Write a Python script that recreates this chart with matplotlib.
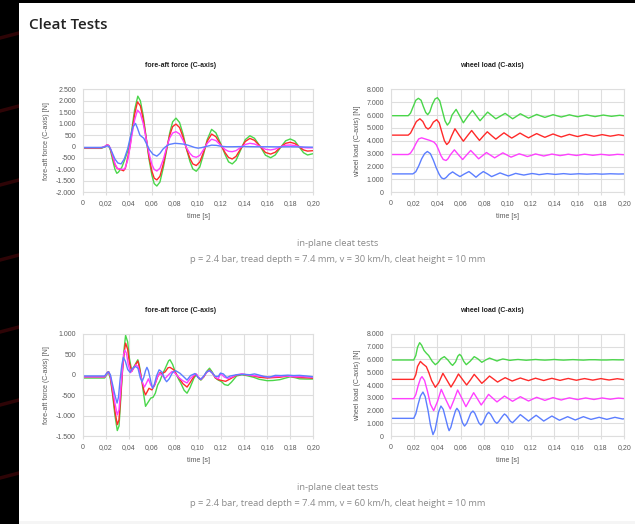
import matplotlib.pyplot as plt
from matplotlib.lines import Line2D
from matplotlib.patches import Rectangle

W, H = 635, 524

TIME_TICKS = [0, 0.02, 0.04, 0.06, 0.08, 0.10, 0.12, 0.14, 0.16, 0.18, 0.20]
TIME_LABELS = ["0", "0,02", "0,04", "0,06", "0,08", "0,10", "0,12", "0,14", "0,16", "0,18", "0,20"]

FORCE_30_TICKS = [-2000, -1500, -1000, -500, 0, 500, 1000, 1500, 2000, 2500]
FORCE_60_TICKS = [-1500, -1000, -500, 0, 500, 1000]
LOAD_TICKS = [0, 1000, 2000, 3000, 4000, 5000, 6000, 7000, 8000]

COLORS = ["#4ad64a", "#ff2a2a", "#ff40ff", "#5c7eff"]  # green, red, magenta, blue

# (time [s], value [N])
# --- v = 30 km/h, fore-aft force
F30_GREEN = [(0, -80), (0.016, -80), (0.019, -20), (0.021, 60), (0.0225, 40), (0.024, -150), (0.026, -600),
             (0.028, -1000), (0.0296, -1170), (0.031, -1120), (0.034, -900), (0.037, -500), (0.040, -50),
             (0.0425, 700), (0.045, 1600), (0.0478, 2200), (0.050, 2000), (0.0525, 1350), (0.055, 400),
             (0.0575, -550), (0.060, -1250), (0.062, -1620), (0.0643, -1726), (0.067, -1550), (0.070, -900),
             (0.073, -100), (0.0755, 600), (0.078, 1080), (0.0809, 1240), (0.084, 1050), (0.087, 550),
             (0.090, -100), (0.093, -650), (0.0955, -980), (0.0985, -1080), (0.1015, -900), (0.105, -300),
             (0.108, 300), (0.1118, 750), (0.1155, 600), (0.1195, 150), (0.1235, -350), (0.1265, -670),
             (0.1297, -760), (0.133, -600), (0.137, -150), (0.141, 300), (0.145, 470), (0.149, 360),
             (0.154, 0), (0.1585, -380), (0.163, -490), (0.167, -370), (0.1715, -50), (0.176, 250),
             (0.180, 330), (0.184, 240), (0.1875, 0), (0.1915, -270), (0.195, -370), (0.2, -310)]
F30_RED = [(0, -60), (0.016, -60), (0.019, -10), (0.021, 70), (0.0225, 50), (0.024, -100), (0.026, -450),
           (0.028, -800), (0.030, -960), (0.032, -990), (0.0354, -1060), (0.037, -950), (0.039, -500),
           (0.041, 0), (0.0425, 550), (0.045, 1400), (0.0475, 1950), (0.050, 1780), (0.0525, 1200),
           (0.055, 380), (0.0575, -450), (0.060, -1080), (0.062, -1380), (0.0643, -1460), (0.067, -1300),
           (0.070, -750), (0.073, -50), (0.0755, 500), (0.078, 870), (0.0809, 980), (0.084, 830), (0.087, 420),
           (0.090, -100), (0.093, -520), (0.0955, -760), (0.0985, -830), (0.1015, -680), (0.105, -220),
           (0.108, 230), (0.1118, 545), (0.1155, 430), (0.1195, 100), (0.1235, -270), (0.1265, -480),
           (0.1297, -545), (0.133, -430), (0.137, -100), (0.141, 220), (0.145, 355), (0.149, 270), (0.154, 0),
           (0.1585, -260), (0.163, -330), (0.167, -250), (0.1715, -30), (0.176, 140), (0.180, 185),
           (0.184, 130), (0.1875, 0), (0.1915, -150), (0.195, -200), (0.2, -180)]
F30_MAGENTA = [(0, -50), (0.016, -50), (0.019, 0), (0.021, 70), (0.0225, 50), (0.024, -80), (0.026, -400),
               (0.028, -750), (0.030, -950), (0.032, -980), (0.034, -1000), (0.0365, -980), (0.039, -600),
               (0.041, -50), (0.0425, 450), (0.045, 1150), (0.0475, 1590), (0.050, 1450), (0.0525, 1000),
               (0.055, 350), (0.0575, -300), (0.060, -780), (0.062, -1000), (0.0643, -1070), (0.067, -950),
               (0.070, -550), (0.073, 0), (0.0755, 380), (0.078, 590), (0.0809, 650), (0.084, 550), (0.087, 270),
               (0.090, -50), (0.093, -300), (0.0955, -430), (0.0985, -470), (0.1015, -390), (0.105, -120),
               (0.108, 140), (0.1118, 320), (0.1155, 260), (0.1195, 60), (0.1235, -130), (0.1265, -210),
               (0.1297, -225), (0.133, -180), (0.137, -40), (0.141, 90), (0.145, 140), (0.149, 110), (0.154, 0),
               (0.1585, -120), (0.163, -150), (0.167, -110), (0.1715, -10), (0.176, 55), (0.180, 65),
               (0.184, 45), (0.1875, 0), (0.1915, -45), (0.195, -60), (0.2, -55)]
F30_BLUE = [(0, -40), (0.017, -40), (0.0195, -10), (0.021, 30), (0.023, 0), (0.025, -200), (0.028, -550),
            (0.0305, -720), (0.0333, -760), (0.036, -550), (0.039, -100), (0.0415, 450), (0.0435, 850),
            (0.0458, 1010), (0.0475, 800), (0.0496, 500), (0.0515, 420), (0.053, 360), (0.0557, 80),
            (0.058, -150), (0.061, -340), (0.0643, -420), (0.067, -300), (0.0695, -120), (0.0716, -20),
            (0.075, 90), (0.080, 140), (0.085, 120), (0.089, 95), (0.093, 30), (0.097, -40), (0.1, -70),
            (0.103, -50), (0.107, 0), (0.1118, 60), (0.116, 50), (0.12, 10), (0.125, -10), (0.13, -10),
            (0.14, 0), (0.15, -10), (0.16, -10), (0.17, -15), (0.18, -10), (0.19, -20), (0.2, -30)]

# --- v = 30 km/h, wheel load
L30_GREEN = [(0, 5950), (0.015, 5950), (0.017, 6150), (0.019, 6600), (0.0215, 7150), (0.0237, 7300),
             (0.026, 7150), (0.028, 6650), (0.030, 6200), (0.0317, 6030), (0.0335, 6250), (0.0355, 6800),
             (0.038, 7250), (0.040, 7350), (0.042, 7100), (0.0443, 6300), (0.0465, 5550), (0.0485, 5220),
             (0.0505, 5450), (0.0525, 6000), (0.056, 6440), (0.059, 5950), (0.0622, 5400), (0.066, 5900),
             (0.070, 6360), (0.0733, 5950), (0.0765, 5560), (0.0798, 5900), (0.083, 6230), (0.0865, 5970),
             (0.090, 5710), (0.094, 5920), (0.098, 6130), (0.1012, 5920), (0.1044, 5710), (0.1077, 5900),
             (0.111, 6100), (0.1145, 5930), (0.118, 5760), (0.1215, 5900), (0.125, 6050), (0.1285, 5930),
             (0.132, 5820), (0.1355, 5920), (0.139, 6030), (0.1425, 5940), (0.146, 5850), (0.1495, 5930),
             (0.153, 6020), (0.1565, 5940), (0.160, 5870), (0.164, 5940), (0.168, 6010), (0.1715, 5940),
             (0.175, 5880), (0.1785, 5940), (0.182, 6000), (0.1855, 5950), (0.189, 5900), (0.1925, 5940),
             (0.196, 5980), (0.2, 5940)]
L30_RED = [(0, 4440), (0.015, 4440), (0.017, 4600), (0.0195, 5050), (0.022, 5500), (0.025, 5710),
           (0.0275, 5500), (0.030, 5050), (0.032, 4910), (0.034, 5050), (0.0365, 5450), (0.0394, 5640),
           (0.0415, 5400), (0.0438, 4670), (0.046, 4000), (0.048, 3710), (0.050, 3900), (0.052, 4350),
           (0.055, 4935), (0.0585, 4450), (0.0622, 3970), (0.0658, 4400), (0.0693, 4800), (0.0727, 4400),
           (0.076, 4030), (0.0793, 4370), (0.0827, 4700), (0.0863, 4410), (0.090, 4130), (0.0935, 4380),
           (0.097, 4620), (0.1003, 4410), (0.1036, 4210), (0.1072, 4400), (0.1107, 4600), (0.1143, 4410),
           (0.118, 4230), (0.1215, 4400), (0.125, 4560), (0.1285, 4410), (0.132, 4270), (0.1355, 4400),
           (0.139, 4530), (0.1425, 4410), (0.146, 4300), (0.1495, 4400), (0.153, 4500), (0.1565, 4410),
           (0.160, 4330), (0.1635, 4410), (0.167, 4490), (0.1705, 4420), (0.174, 4350), (0.1775, 4410),
           (0.181, 4480), (0.1845, 4420), (0.188, 4360), (0.1915, 4410), (0.195, 4470), (0.2, 4400)]
L30_MAGENTA = [(0, 2935), (0.015, 2935), (0.017, 3050), (0.0195, 3400), (0.022, 3850), (0.024, 4150),
               (0.0265, 4230), (0.030, 4130), (0.0337, 4025), (0.037, 3900), (0.039, 3700), (0.041, 3300),
               (0.043, 2850), (0.045, 2550), (0.0474, 2470), (0.049, 2600), (0.051, 2900), (0.0545, 3300),
               (0.058, 2920), (0.0616, 2545), (0.065, 2900), (0.0685, 3250), (0.072, 2920), (0.0753, 2600),
               (0.0787, 2850), (0.082, 3090), (0.0855, 2880), (0.089, 2675), (0.0925, 2870), (0.096, 3065),
               (0.0995, 2900), (0.103, 2730), (0.1065, 2860), (0.110, 2990), (0.1135, 2890), (0.117, 2780),
               (0.1205, 2870), (0.124, 2980), (0.1275, 2900), (0.131, 2820), (0.1345, 2890), (0.138, 2970),
               (0.1415, 2910), (0.145, 2850), (0.1485, 2900), (0.152, 2960), (0.1555, 2910), (0.159, 2860),
               (0.1625, 2910), (0.166, 2960), (0.1695, 2920), (0.173, 2870), (0.1765, 2910), (0.180, 2950),
               (0.1835, 2920), (0.187, 2880), (0.1905, 2910), (0.194, 2950), (0.2, 2920)]
L30_BLUE = [(0, 1430), (0.019, 1430), (0.0215, 1600), (0.024, 2050), (0.0265, 2600), (0.029, 3000),
            (0.0314, 3170), (0.034, 3000), (0.0365, 2500), (0.039, 1900), (0.0415, 1400), (0.0435, 1120),
            (0.0456, 1040), (0.0475, 1150), (0.050, 1400), (0.053, 1585), (0.056, 1400), (0.0593, 1220),
            (0.063, 1420), (0.067, 1610), (0.070, 1400), (0.073, 1170), (0.076, 1400), (0.0793, 1610),
            (0.083, 1420), (0.0864, 1220), (0.090, 1360), (0.0936, 1506), (0.097, 1390), (0.1007, 1270),
            (0.104, 1370), (0.107, 1470), (0.1105, 1400), (0.114, 1340), (0.1175, 1400), (0.121, 1460),
            (0.1245, 1415), (0.127, 1370), (0.1305, 1410), (0.134, 1450), (0.1375, 1420), (0.141, 1390),
            (0.1445, 1420), (0.148, 1450), (0.151, 1425), (0.154, 1400), (0.1575, 1420), (0.161, 1440),
            (0.1645, 1425), (0.168, 1410), (0.1715, 1425), (0.175, 1440), (0.178, 1425), (0.181, 1410),
            (0.1845, 1425), (0.188, 1440), (0.1915, 1430), (0.195, 1420), (0.2, 1430)]

# --- v = 60 km/h, fore-aft force
F60_GREEN = [(0, -80), (0.019, -80), (0.0215, 30), (0.0225, 50), (0.024, -100), (0.026, -500), (0.028, -1000),
             (0.030, -1360), (0.0315, -1250), (0.033, -600), (0.0345, 100), (0.036, 650), (0.0372, 960),
             (0.039, 800), (0.0405, 400), (0.0425, 100), (0.0445, 200), (0.0478, 365), (0.049, 250),
             (0.051, -100), (0.053, -500), (0.0545, -770), (0.0565, -680), (0.059, -570), (0.061, -550),
             (0.063, -450), (0.065, -250), (0.067, -150), (0.069, 0), (0.0715, 150), (0.0745, 340),
             (0.0757, 365), (0.078, 250), (0.0805, 50), (0.083, -100), (0.085, -200), (0.088, -380),
             (0.0905, -450), (0.093, -320), (0.0965, -80), (0.0985, 0), (0.1005, -80), (0.1025, -130),
             (0.105, -50), (0.1075, 80), (0.110, 160), (0.1125, 60), (0.115, -80), (0.1176, -130),
             (0.1205, -170), (0.123, -240), (0.126, -260), (0.129, -180), (0.1335, -30), (0.138, 0),
             (0.142, -20), (0.148, -60), (0.153, -110), (0.16, -145), (0.165, -140), (0.171, -120),
             (0.176, -80), (0.18, -50), (0.184, -70), (0.188, -100), (0.194, -105), (0.2, -105)]
F60_RED = [(0, -50), (0.019, -50), (0.0215, 60), (0.0225, 75), (0.024, -50), (0.026, -450), (0.028, -900),
           (0.030, -1215), (0.0315, -1100), (0.033, -500), (0.0345, 100), (0.036, 550), (0.0372, 770),
           (0.039, 620), (0.0405, 300), (0.0425, 80), (0.0445, 180), (0.0478, 335), (0.049, 200), (0.051, -100),
           (0.053, -380), (0.0545, -490), (0.0575, -330), (0.060, -370), (0.0625, -250), (0.065, -50),
           (0.067, 50), (0.069, 30), (0.0715, 70), (0.074, 170), (0.0757, 180), (0.079, 120), (0.0815, 0),
           (0.084, -100), (0.087, -220), (0.0905, -300), (0.093, -200), (0.0965, -40), (0.0985, 10),
           (0.1005, -70), (0.1025, -120), (0.105, -50), (0.1075, 60), (0.110, 115), (0.1125, 40),
           (0.115, -70), (0.1176, -120), (0.1205, -140), (0.124, -160), (0.128, -100), (0.1335, -10),
           (0.138, 10), (0.142, 0), (0.148, -30), (0.153, -60), (0.16, -80), (0.165, -70), (0.171, -60),
           (0.176, -40), (0.18, -40), (0.185, -60), (0.19, -70), (0.195, -75), (0.2, -85)]
F60_MAGENTA = [(0, -50), (0.019, -50), (0.0215, 50), (0.0225, 60), (0.024, -30), (0.026, -350), (0.028, -700),
               (0.030, -980), (0.0315, -850), (0.033, -350), (0.0345, 150), (0.0355, 500), (0.0365, 600),
               (0.038, 520), (0.0395, 250), (0.0415, 50), (0.044, 150), (0.046, 240), (0.048, 200), (0.050, 0),
               (0.052, -200), (0.0535, -300), (0.055, -220), (0.057, -100), (0.059, -250), (0.061, -310),
               (0.063, -200), (0.065, -30), (0.067, 30), (0.069, -20), (0.0715, -90), (0.0745, 0),
               (0.0775, 80), (0.080, 40), (0.083, -60), (0.087, -150), (0.0905, -200), (0.093, -100),
               (0.0965, -10), (0.0985, 20), (0.1005, -60), (0.1025, -110), (0.105, -40), (0.1075, 60),
               (0.110, 100), (0.1125, 40), (0.115, -60), (0.1176, -100), (0.1195, 30), (0.123, -60),
               (0.126, -90), (0.129, -60), (0.1335, 0), (0.138, 20), (0.142, 0), (0.148, -20), (0.155, -40),
               (0.16, -50), (0.165, -50), (0.17, -40), (0.176, -30), (0.18, -40), (0.185, -50), (0.19, -45),
               (0.195, -55), (0.2, -60)]
F60_BLUE = [(0, -30), (0.019, -30), (0.0215, 60), (0.0225, 70), (0.024, 0), (0.026, -250), (0.028, -500),
            (0.0298, -690), (0.031, -550), (0.0325, -100), (0.034, 250), (0.0353, 424), (0.037, 330),
            (0.039, 130), (0.041, 60), (0.043, 150), (0.0455, 200), (0.047, 180), (0.048, 150), (0.050, -80),
            (0.0515, -170), (0.053, -60), (0.0545, 100), (0.0557, 180), (0.057, 100), (0.059, -150),
            (0.0605, -330), (0.062, -250), (0.064, -30), (0.0663, 120), (0.069, 60), (0.071, -100),
            (0.0728, -170), (0.075, -100), (0.078, 60), (0.0805, 100), (0.0844, 35), (0.088, -60),
            (0.0905, -130), (0.0935, -20), (0.0974, 30), (0.1005, -80), (0.1025, -110), (0.105, -30),
            (0.1075, 70), (0.110, 100), (0.1125, 40), (0.115, -40), (0.1176, -40), (0.1195, 40), (0.122, 20),
            (0.125, -70), (0.128, -30), (0.1335, 0), (0.14, 10), (0.145, 0), (0.149, 20), (0.152, 0),
            (0.157, -40), (0.162, -60), (0.167, -15), (0.172, -20), (0.178, -10), (0.183, -20), (0.188, -15),
            (0.194, -30), (0.2, -50)]

# --- v = 60 km/h, wheel load
L60_GREEN = [(0, 5950), (0.0197, 5950), (0.0215, 6300), (0.023, 6950), (0.0248, 7300), (0.0265, 7100),
             (0.0285, 6700), (0.0305, 6480), (0.0325, 6300), (0.0355, 5850), (0.0382, 5585), (0.0405, 5750),
             (0.043, 6050), (0.0459, 6210), (0.049, 5950), (0.0515, 5650), (0.053, 5530), (0.0555, 5800),
             (0.0575, 6250), (0.059, 6390), (0.0605, 6250), (0.0625, 5850), (0.0647, 5585), (0.068, 5850),
             (0.0715, 6210), (0.0745, 6050), (0.078, 5770), (0.0813, 5950), (0.0846, 6100), (0.088, 5980),
             (0.091, 5870), (0.0935, 5960), (0.096, 6030), (0.099, 5980), (0.102, 5920), (0.1055, 5960),
             (0.109, 5990), (0.1125, 5960), (0.116, 5930), (0.12, 5960), (0.124, 5990), (0.128, 5960),
             (0.132, 5940), (0.136, 5960), (0.14, 5990), (0.144, 5960), (0.148, 5940), (0.152, 5960),
             (0.156, 5980), (0.16, 5960), (0.165, 5940), (0.17, 5970), (0.175, 5970), (0.18, 5950),
             (0.185, 5950), (0.19, 5970), (0.195, 5960), (0.2, 5960)]
L60_RED = [(0, 4440), (0.0197, 4440), (0.0215, 4800), (0.023, 5450), (0.0254, 5840), (0.0275, 5650),
           (0.0305, 5430), (0.0325, 5000), (0.035, 4350), (0.0382, 3820), (0.041, 4150), (0.0447, 4910),
           (0.048, 4400), (0.0516, 3840), (0.055, 4350), (0.058, 4860), (0.0615, 4430), (0.065, 4000),
           (0.0683, 4400), (0.0715, 4830), (0.0748, 4480), (0.078, 4130), (0.0813, 4400), (0.0846, 4700),
           (0.088, 4470), (0.0915, 4230), (0.095, 4420), (0.098, 4570), (0.101, 4440), (0.104, 4310),
           (0.1075, 4430), (0.111, 4545), (0.1145, 4440), (0.118, 4340), (0.121, 4440), (0.124, 4530),
           (0.1275, 4440), (0.131, 4350), (0.1345, 4440), (0.138, 4520), (0.1415, 4440), (0.145, 4360),
           (0.1485, 4440), (0.152, 4510), (0.1555, 4440), (0.159, 4370), (0.1625, 4440), (0.166, 4500),
           (0.1695, 4440), (0.173, 4380), (0.1765, 4440), (0.18, 4500), (0.1835, 4440), (0.187, 4390),
           (0.1905, 4440), (0.194, 4490), (0.197, 4450), (0.2, 4420)]
L60_MAGENTA = [(0, 2935), (0.0197, 2935), (0.0215, 3250), (0.0235, 3950), (0.0255, 4500), (0.0268, 4650),
               (0.029, 4350), (0.0315, 3500), (0.034, 2500), (0.0368, 2000), (0.040, 2700), (0.0433, 3660),
               (0.047, 2900), (0.051, 2130), (0.054, 2800), (0.0573, 3610), (0.061, 2950), (0.0644, 2310),
               (0.0677, 2850), (0.071, 3400), (0.0743, 2920), (0.0775, 2440), (0.0807, 2850), (0.0838, 3270),
               (0.0874, 2970), (0.091, 2680), (0.0942, 2910), (0.0974, 3140), (0.101, 2930), (0.1043, 2730),
               (0.1077, 2910), (0.111, 3090), (0.1145, 2920), (0.118, 2750), (0.1215, 2900), (0.125, 3040),
               (0.1285, 2920), (0.132, 2800), (0.1355, 2910), (0.139, 3020), (0.1425, 2920), (0.146, 2830),
               (0.1495, 2920), (0.153, 3000), (0.1565, 2930), (0.16, 2860), (0.1635, 2930), (0.167, 2990),
               (0.1705, 2930), (0.174, 2870), (0.1775, 2930), (0.181, 2990), (0.1845, 2940), (0.188, 2890),
               (0.1915, 2940), (0.195, 2980), (0.2, 2940)]
L60_BLUE = [(0, 1400), (0.0197, 1400), (0.0215, 1750), (0.0235, 2500), (0.0255, 3150), (0.0276, 3450),
            (0.0295, 3100), (0.032, 2000), (0.034, 900), (0.0362, 130), (0.038, 500), (0.0395, 1200),
            (0.041, 1900), (0.043, 2360), (0.045, 2100), (0.047, 1400), (0.049, 700), (0.050, 440),
            (0.0515, 700), (0.0535, 1400), (0.0555, 2000), (0.0567, 2180), (0.0585, 1950), (0.060, 1500),
            (0.0615, 1050), (0.0632, 800), (0.065, 1000), (0.0668, 1400), (0.0685, 1800), (0.0704, 1970),
            (0.072, 1800), (0.0738, 1420), (0.0755, 1050), (0.0772, 880), (0.079, 1050), (0.0805, 1380),
            (0.0822, 1700), (0.0838, 1870), (0.0855, 1720), (0.0873, 1440), (0.089, 1160), (0.0909, 1010),
            (0.0925, 1150), (0.0942, 1380), (0.096, 1600), (0.0974, 1740), (0.099, 1630), (0.1008, 1400),
            (0.1025, 1170), (0.1043, 1060), (0.1077, 1375), (0.111, 1690), (0.1145, 1440), (0.118, 1190),
            (0.1212, 1415), (0.1245, 1640), (0.1278, 1415), (0.131, 1190), (0.1345, 1385), (0.138, 1580),
            (0.1412, 1415), (0.1445, 1250), (0.148, 1390), (0.1515, 1530), (0.1548, 1400), (0.158, 1270),
            (0.1615, 1400), (0.165, 1530), (0.1682, 1425), (0.1715, 1320), (0.175, 1400), (0.1785, 1480),
            (0.1818, 1400), (0.185, 1320), (0.1885, 1400), (0.192, 1480), (0.1952, 1415), (0.1985, 1350),
            (0.2, 1370)]

CAPTION_TOP = "in-plane cleat tests"
CAPTION_30 = "p = 2.4 bar, tread depth = 7.4 mm, v = 30 km/h, cleat height = 10 mm"
CAPTION_60 = "p = 2.4 bar, tread depth = 7.4 mm, v = 60 km/h, cleat height = 10 mm"

# faint reddish streaks in the dark page margin
STREAK_ROWS = [35, 108, 182, 257, 329, 402, 475]

CHART_FONT = "Liberation Sans"
PAGE_FONT = "Open Sans"
GRID = "#dedede"


def fx(px):
    return px / W


def fy(py):
    return 1 - py / H


def draw_chart(fig, box, series, ticks, title, ylabel, title_x, ylabel_x):
    left, top, right, bottom = box
    ax = fig.add_axes([fx(left), fy(bottom), (right - left) / W, (bottom - top) / H])
    ax.set_facecolor("white")

    for points, color in zip(series, COLORS):
        t = [p[0] for p in points]
        v = [p[1] for p in points]
        ax.plot(t, v, color=color, lw=1.0, solid_joinstyle="round")

    ax.set_xlim(TIME_TICKS[0], TIME_TICKS[-1])
    ax.set_ylim(ticks[0], ticks[-1])
    ax.set_xticks(TIME_TICKS)
    ax.set_xticklabels(TIME_LABELS)
    ax.set_yticks(ticks)
    ax.set_yticklabels([f"{v:,}".replace(",", ".") for v in ticks])
    ax.grid(True, color=GRID, lw=0.8)
    ax.set_axisbelow(True)
    for sp in ax.spines.values():
        sp.set_color(GRID)
        sp.set_linewidth(0.8)
    ax.tick_params(axis="x", length=2.2, width=0.8, color=GRID, pad=3.2,
                   labelsize=5, labelcolor="#5a5a5a")
    ax.tick_params(axis="y", length=0, pad=4.8, labelsize=5, labelcolor="#5a5a5a")
    for lab in ax.get_xticklabels() + ax.get_yticklabels():
        lab.set_fontfamily(CHART_FONT)

    fig.text(fx(title_x), fy(top - 23.5), title, ha="center", va="center",
             fontsize=5, fontweight="bold", color="#222222", family=CHART_FONT)
    fig.text(fx(ylabel_x), fy((top + bottom) / 2), ylabel, ha="center", va="center",
             rotation=90, fontsize=5, color="#5a5a5a", family=CHART_FONT)
    fig.text(fx((left + right) / 2), fy(bottom + 24.7), "time [s]", ha="center", va="center",
             fontsize=5, color="#5a5a5a", family=CHART_FONT)
    return ax


def main() -> None:
    fig = plt.figure(figsize=(W / 100, H / 100), dpi=100)
    fig.patch.set_facecolor("black")
    for row in STREAK_ROWS:
        fig.add_artist(Line2D([0, fx(19)], [fy(row + 3), fy(row - 2)], transform=fig.transFigure,
                              color="#3a0608", lw=2.5, alpha=0.8, zorder=-20))
    fig.add_artist(Rectangle((fx(19), fy(521)), 1 - fx(19), fy(3) - fy(521), zorder=-10,
                             transform=fig.transFigure, facecolor="white", edgecolor="none"))
    fig.add_artist(Rectangle((fx(19), 0), 1 - fx(19), fy(521), zorder=-10,
                             transform=fig.transFigure, facecolor="#f5f5f5", edgecolor="none"))

    fig.text(fx(29), fy(25), "Cleat Tests", ha="left", va="center", fontsize=11,
             fontweight="semibold", color="#222222", family=PAGE_FONT)

    draw_chart(fig, (82.7, 89.3, 313.3, 192.3), [F30_GREEN, F30_RED, F30_MAGENTA, F30_BLUE],
               FORCE_30_TICKS, "fore-aft force (C-axis)", "fore-aft force (C-axis) [N]", 181, 46)
    draw_chart(fig, (390.7, 89.3, 624.3, 192.3), [L30_GREEN, L30_RED, L30_MAGENTA, L30_BLUE],
               LOAD_TICKS, "wheel load (C-axis)", "wheel load (C-axis) [N]", 492, 357.5)
    draw_chart(fig, (82.7, 333.7, 313.3, 436.3), [F60_GREEN, F60_RED, F60_MAGENTA, F60_BLUE],
               FORCE_60_TICKS, "fore-aft force (C-axis)", "fore-aft force (C-axis) [N]", 181, 46)
    draw_chart(fig, (390.7, 333.7, 624.3, 436.3), [L60_GREEN, L60_RED, L60_MAGENTA, L60_BLUE],
               LOAD_TICKS, "wheel load (C-axis)", "wheel load (C-axis) [N]", 492, 357.5)

    for y0, caption in [(244, CAPTION_30), (487.5, CAPTION_60)]:
        fig.text(fx(337.5), fy(y0), CAPTION_TOP, ha="center", va="center",
                 fontsize=6.75, color="#8a8a8a", family=PAGE_FONT)
        fig.text(fx(337.5), fy(y0 + 15.5), caption, ha="center", va="center",
                 fontsize=6.75, color="#8a8a8a", family=PAGE_FONT)

    fig.savefig("out.png", dpi=100, facecolor=fig.get_facecolor())
    plt.close(fig)


if __name__ == "__main__":
    main()
